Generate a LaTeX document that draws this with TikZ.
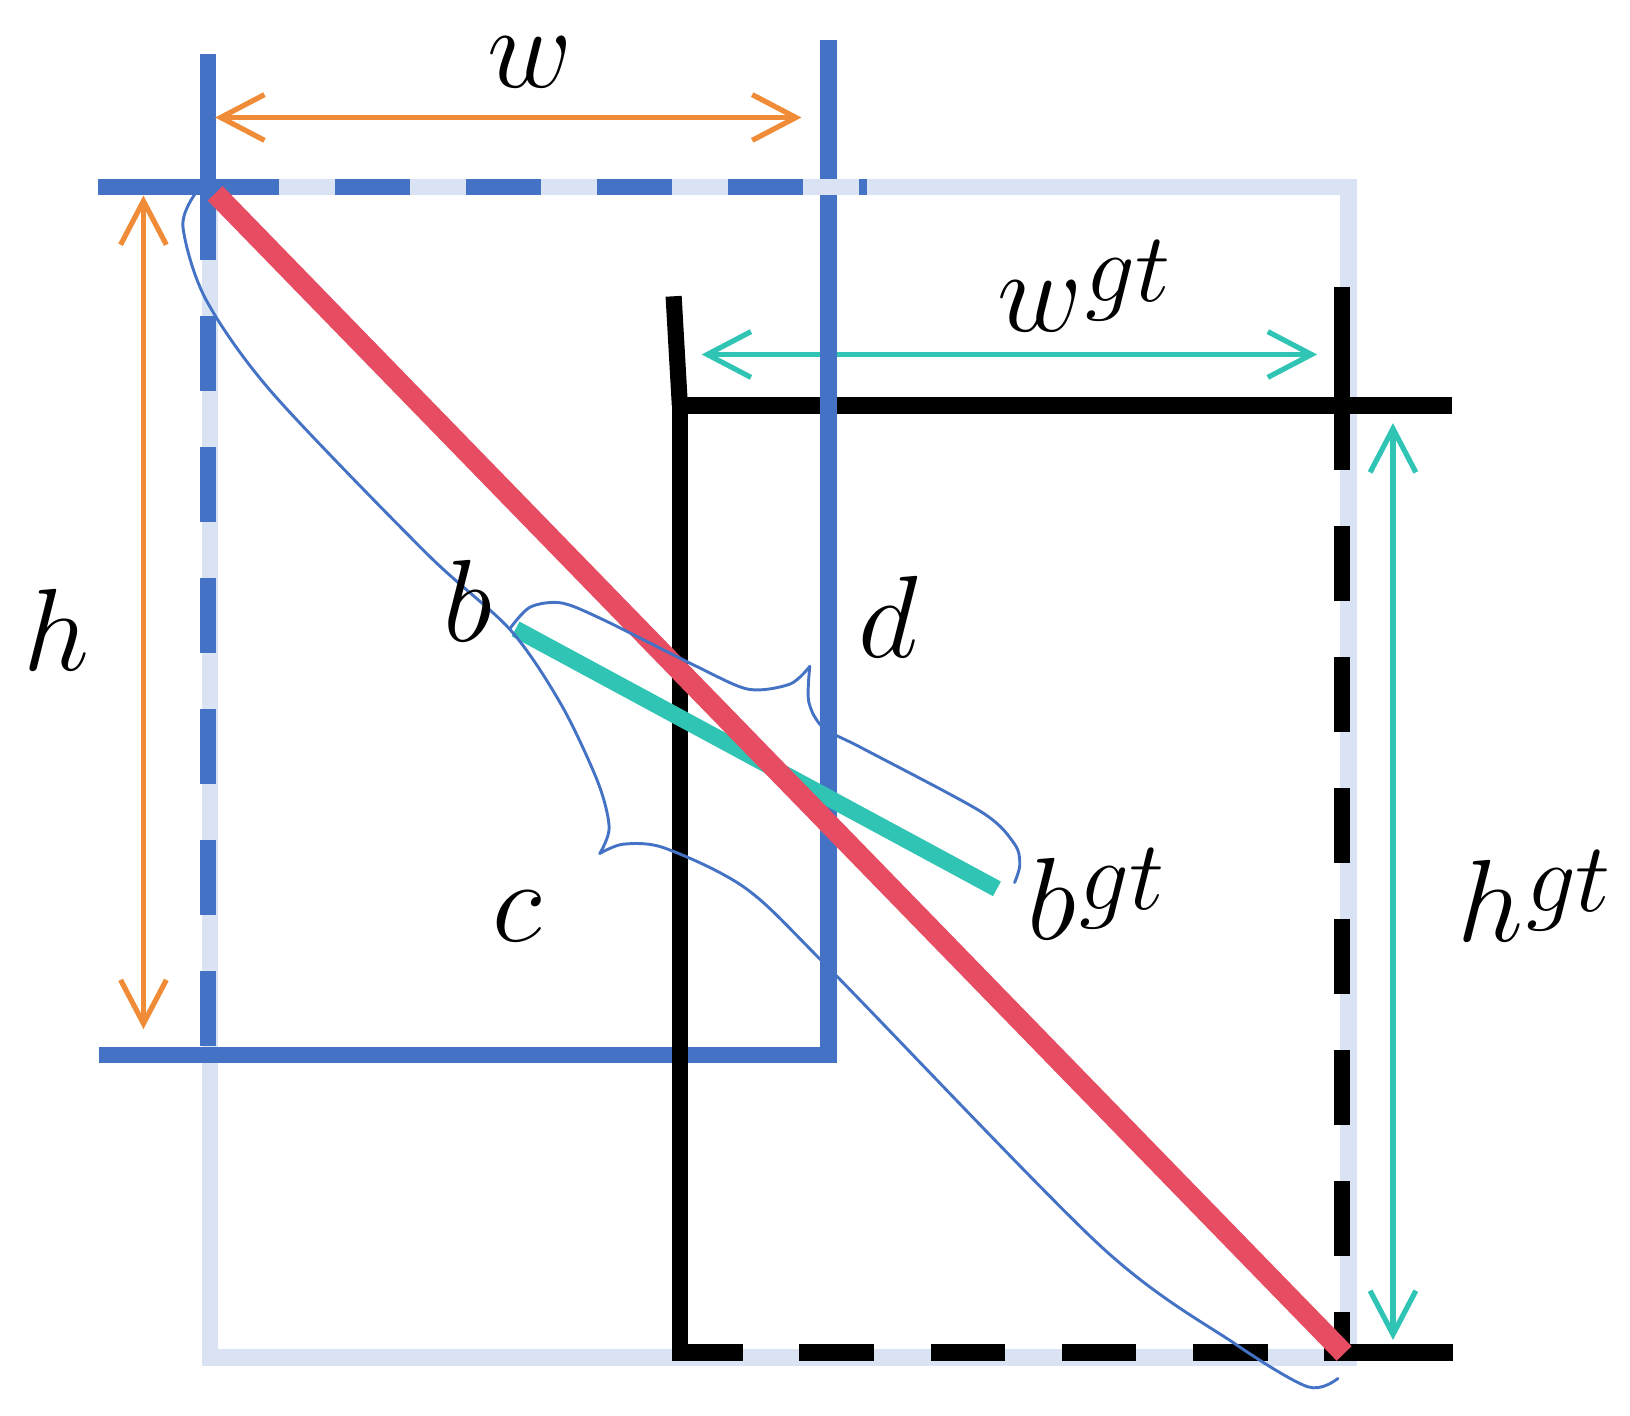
\RequirePackage{fix-cm}
\documentclass[tikz,border=0pt]{standalone}
\usetikzlibrary{arrows.meta}
\definecolor{pblue}{RGB}{68,114,196}
\definecolor{plight}{RGB}{218,227,243}
\definecolor{pred}{RGB}{230,76,98}
\definecolor{pteal}{RGB}{48,196,180}
\definecolor{porange}{RGB}{240,140,56}
\newcommand{\gtsup}{\kern0.3mm\raisebox{2.9mm}{\fontsize{27}{30}\selectfont$gt$}}
\tikzset{
  heavy/.style={line width=1.55mm},
  bluel/.style={heavy, draw=pblue},
  blackl/.style={heavy, draw=black},
  lightl/.style={line width=1.6mm, draw=plight},
  dashpat/.style={dash pattern=on 7.2mm off 5.4mm},
  dimarrow/.style={line width=0.5mm, {Straight Barb[length=4.2mm,width=4.4mm]}-{Straight Barb[length=4.2mm,width=4.4mm]}},
  oarrow/.style={dimarrow, draw=porange},
  tarrow/.style={dimarrow, draw=pteal},
  bracel/.style={line width=0.28mm, draw=pblue, line cap=round, line join=round},
  lbl/.style={inner sep=0pt, font=\fontsize{32}{38}\selectfont},
}
\begin{document}
\begin{tikzpicture}[x=0.01cm, y=-0.01cm]
\useasboundingbox (0,0) rectangle (1568,1362);

% light enclosing box
\coordinate (LTL) at (202,180);
\coordinate (LBR) at (1297,1306);
\draw[lightl] (LTL) rectangle (LBR);

% predicted box bottom edge (under the black box)
\coordinate (pBL) at (95,1015);
\coordinate (pBR) at (805,1015);
\draw[bluel] (pBL) -- (pBR);

% ground-truth box (black)
\coordinate (gStubT) at (648,285);
\coordinate (gTL) at (654,390);
\coordinate (gBL) at (654,1309);
\coordinate (gTopL) at (646,390);
\coordinate (gTopR) at (1397,390);
\coordinate (gRT) at (1291,276);
\coordinate (gRM) at (1291,452);
\coordinate (gRB) at (1291,1301);
\coordinate (gBotL) at (654,1301);
\coordinate (gBotM) at (1294,1301);
\coordinate (gBotR) at (1398,1301);
\draw[blackl] (gStubT) -- (gTL);
\draw[blackl] (gTL) -- (gBL);
\draw[blackl] (gTopL) -- (gTopR);
\draw[blackl] (gRT) -- (gRM);
\draw[blackl, dashpat, dash phase=7.2mm] (gRM) -- (gRB);
\draw[blackl, dashpat, dash phase=1.1mm] (gBotL) -- (gBotM);
\draw[blackl] (gBotM) -- (gBotR);

% teal dimension arrows
\coordinate (twL) at (675,341);
\coordinate (twR) at (1267,341);
\coordinate (thT) at (1340,407);
\coordinate (thB) at (1340,1289);
\draw[tarrow] (twL) -- (twR);
\draw[tarrow] (thT) -- (thB);

% predicted box (blue)
\coordinate (pRT) at (797,38);
\coordinate (pRB) at (797,1022.7);
\coordinate (pLT) at (200,52);
\coordinate (pC) at (200,180);
\coordinate (pTL) at (94,180);
\coordinate (pTopEnd) at (834,180);
\coordinate (pLBot) at (200,1015);
\draw[bluel] (pRT) -- (pRB);
\draw[bluel] (pLT) -- (pC);
\draw[bluel] (pTL) -- (pC);
\draw[lightl] (788,180) -- (806,180);
\draw[bluel, dashpat, dash phase=0.4mm] (pC) -- (pTopEnd);
\draw[bluel, dashpat, dash phase=0.2mm] (pC) -- (pLBot);

% diagonals
\coordinate (rS) at (207,186);
\coordinate (rE) at (1293,1302);
\coordinate (tS) at (496,605);
\coordinate (tE) at (959,855);
\draw[line width=1.6mm, draw=pteal] (tS) -- (tE);
\draw[line width=2mm, draw=pred] (rS) -- (rE);

% orange dimension arrows
\coordinate (owL) at (207,113);
\coordinate (owR) at (771,113);
\coordinate (ohT) at (138,188);
\coordinate (ohB) at (138,990);
\draw[oarrow] (owL) -- (owR);
\draw[oarrow] (ohT) -- (ohB);

% braces
\draw[bracel] plot[smooth] coordinates {(188,186) (176,218) (198,288) (262,378) (410,532) (491,606) (540,678) (575,752) (586,796) (577,821)};
\draw[bracel] plot[smooth] coordinates {(577,821) (600,812) (640,816) (718,855) (800,934) (1058,1198) (1187,1292) (1258,1334) (1287,1326)};
\draw[bracel] plot[smooth] coordinates {(491,604) (510,584) (540,580) (580,596) (670,641) (720,663) (760,658) (779,641)};
\draw[bracel] plot[smooth] coordinates {(779,641) (778,675) (792,700) (830,720) (944,781) (976,812) (981,832) (976,849)};

% labels
\node[lbl, anchor=base] (lw) at (510,84) {$w$};
\node[lbl, anchor=base west] (lwgt) at (959,319) {$w$\gtsup};
\node[lbl, anchor=base west] (lh) at (22,645) {$h$};
\node[lbl, anchor=base west] (lhgt) at (1401,906) {$h$\gtsup};
\node[lbl, anchor=base west] (lb) at (426,617) {$b$};
\node[lbl, anchor=base west] (ld) at (825,632) {$d$};
\node[lbl, anchor=base west] (lc) at (473,906) {$c$};
\node[lbl, anchor=base west] (lbgt) at (988,904) {$b$\gtsup};
\end{tikzpicture}
\end{document}
